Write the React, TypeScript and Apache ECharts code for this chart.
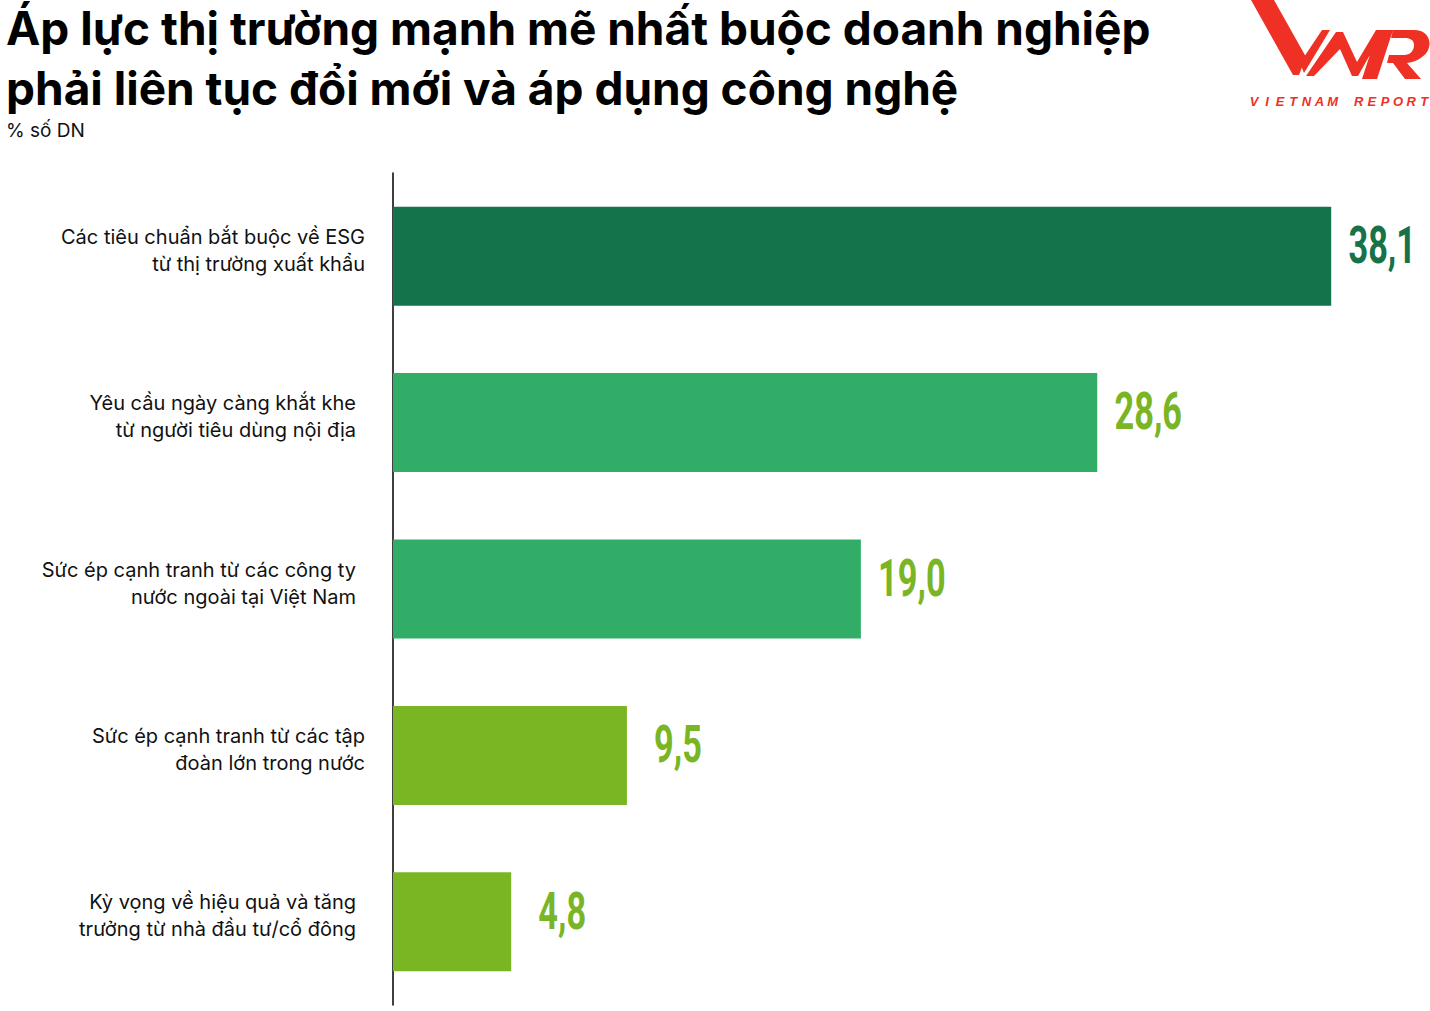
import React, { useEffect, useRef } from "react";
import * as echarts from "echarts";

const categories = [
  "Các tiêu chuẩn bắt buộc về ESG\ntừ thị trường xuất khẩu",
  "Yêu cầu ngày càng khắt khe\ntừ người tiêu dùng nội địa",
  "Sức ép cạnh tranh từ các công ty\nnước ngoài tại Việt Nam",
  "Sức ép cạnh tranh từ các tập\nđoàn lớn trong nước",
  "Kỳ vọng về hiệu quả và tăng\ntrưởng từ nhà đầu tư/cổ đông",
];
const values = [38.1, 28.6, 19.0, 9.5, 4.8];
const barColors = ["#14734B", "#31AD67", "#31AD67", "#7AB624", "#7AB624"];
const valueColors = ["#15724A", "#7AB526", "#7AB526", "#7AB526", "#7AB526"];
const labelPadRight = [0, 9, 9, 0, 9];

const titleText = "Áp lực thị trường mạnh mẽ nhất buộc doanh nghiệp\nphải liên tục đổi mới và áp dụng công nghệ";
const subText = "% số DN";
const logoText = "VIETNAM REPORT";

const LOGO_D =
  "M1251 0 H1274 L1306 57 L1299 75 H1293 Z " +
  "M1300 63 L1322 30 H1330 L1304 73 Z " +
  "M1306 76 L1336 32 H1343 L1357 62 L1376 30 H1384 L1358 76 H1352 L1340 49 L1314 76 Z " +
  "M1378 30 H1393 L1377 79 H1362 Z " +
  "M1393 30 H1414 C1428 30 1433 42 1427 52 C1423 58 1415 62 1407 63 L1421 79 H1405 L1393 63 H1387 L1389 55 H1404 C1410 55 1414 51 1414 45 C1414 40 1410 38 1405 38 H1391 Z";

echarts.graphic.registerShape("vnrlogo", echarts.graphic.extendPath(LOGO_D, {}) as any);

const labelFont = "Inter, 'Open Sans', sans-serif";

export default function App() {
  const ref = useRef<HTMLDivElement>(null);
  useEffect(() => {
    if (!ref.current) return;
    const chart = echarts.init(ref.current, null, { renderer: "svg" });
    const logoLetters = logoText.split("").map((ch, i) => ({
      type: "text",
      x: 1254 + i * 13.1,
      y: 95,
      style: {
        text: ch,
        align: "center",
        fill: "#EE3124",
        font: "italic bold 13px 'Liberation Sans', Arial, sans-serif",
      },
    }));
    chart.setOption({
      animation: false,
      backgroundColor: "#ffffff",
      title: {
        text: titleText,
        subtext: subText,
        left: 1,
        top: -7,
        itemGap: 3,
        textStyle: {
          fontFamily: "Inter, 'Open Sans', sans-serif",
          fontWeight: "bold",
          fontSize: 46,
          lineHeight: 60,
          color: "#000000",
        },
        subtextStyle: {
          fontFamily: "Inter, 'Open Sans', sans-serif",
          fontSize: 19,
          color: "#111111",
        },
      },
      graphic: [
        {
          type: "vnrlogo",
          x: 0,
          y: 0,
          style: { fill: "#EE3124" },
        },
        ...logoLetters,
      ],
      grid: { left: 393, top: 173, height: 832, width: 985 },
      xAxis: {
        type: "value",
        min: 0,
        max: 40,
        show: false,
      },
      yAxis: {
        type: "category",
        inverse: true,
        data: categories,
        axisLine: { show: true, lineStyle: { color: "#000000", width: 1.5 } },
        axisTick: { show: false },
        axisLabel: {
          margin: 28,
          align: "right",
          formatter: (value: string, index: number) => {
            const st = labelPadRight[index] ? "b" : "a";
            return value.split("\n").map((l) => `{${st}|${l}}`).join("\n") + "\n{s| }";
          },
          rich: {
            a: { fontFamily: labelFont, fontSize: 20, lineHeight: 27, color: "#111111" },
            b: {
              fontFamily: labelFont,
              fontSize: 20,
              lineHeight: 27,
              color: "#111111",
              padding: [0, 9, 0, 0],
            },
            s: { fontSize: 2, lineHeight: 12 },
          },
        },
      },
      series: [
        {
          type: "bar",
          barWidth: 99,
          data: values.map((v, i) => ({
            value: v,
            itemStyle: { color: barColors[i] },
          })),
        },
        {
          type: "custom",
          encode: { x: 0, y: 1 },
          data: values.map((v, i) => [v, i]),
          renderItem: (params: any, api: any) => {
            const v = api.value(0);
            const idx = params.dataIndex;
            const pt = api.coord([v, idx]);
            return {
              type: "text",
              x: pt[0] + 51,
              y: pt[1] - 11,
              scaleX: 0.66,
              style: {
                text: v.toFixed(1).replace(".", ","),
                fill: valueColors[idx],
                font: "bold 52px Roboto, sans-serif",
                align: "center",
                verticalAlign: "middle",
              },
            };
          },
        },
      ],
    });
    return () => chart.dispose();
  }, []);
  return (
    <div
      ref={ref}
      style={{ position: "fixed", left: 0, top: 0, width: 1430, height: 1011 }}
    />
  );
}
